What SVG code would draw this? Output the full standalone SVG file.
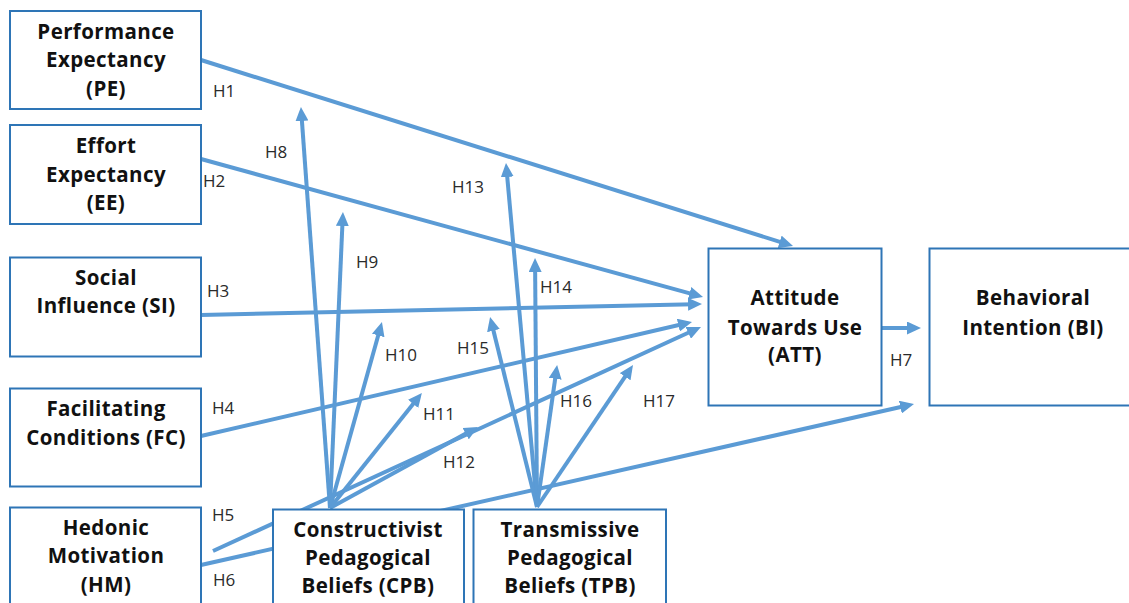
<svg xmlns="http://www.w3.org/2000/svg" width="1129" height="603" viewBox="0 0 1129 603">
<style>
.box{fill:#ffffff;stroke:#2E75B6;stroke-width:2}
.nt{font-family:"Open Sans","Liberation Sans",sans-serif;font-weight:bold;font-size:20.5px;letter-spacing:0.4px;fill:#111;text-anchor:middle}
.lbl{font-family:"Open Sans","Liberation Sans",sans-serif;font-size:17px;fill:#2a2a2a}
.ca{stroke:#5B9BD5;stroke-width:4;fill:none;marker-end:url(#ah)}
</style>
<defs>
<marker id="ah" markerUnits="userSpaceOnUse" viewBox="0 0 14 13" markerWidth="14" markerHeight="13" refX="6" refY="6.5" orient="auto">
<path d="M0,0 L14,6.5 L0,13 Z" fill="#5B9BD5"/>
</marker>
</defs>
<rect width="1129" height="603" fill="#ffffff"/>
<g id="connectors">
<line class="ca" x1="201" y1="60" x2="785.4" y2="243.6"/>
<line class="ca" x1="201" y1="159" x2="695.3" y2="294.9"/>
<line class="ca" x1="201" y1="315" x2="694" y2="304.2"/>
<line class="ca" x1="201" y1="436" x2="684.2" y2="323.8"/>
<line class="ca" x1="213" y1="551" x2="693.7" y2="330.3"/>
<line class="ca" x1="201" y1="565" x2="906.2" y2="405.8"/>
<line class="ca" x1="882" y1="328" x2="913" y2="328"/>
<line class="ca" x1="330" y1="508" x2="301.5" y2="115"/>
<line class="ca" x1="330" y1="508" x2="342.6" y2="220"/>
<line class="ca" x1="330" y1="508" x2="379.8" y2="329.7"/>
<line class="ca" x1="330" y1="508" x2="416.9" y2="399.2"/>
<line class="ca" x1="330" y1="508" x2="470.9" y2="430.8"/>
<line class="ca" x1="537" y1="507" x2="506.7" y2="171"/>
<line class="ca" x1="537" y1="507" x2="535.1" y2="266"/>
<line class="ca" x1="537" y1="507" x2="492" y2="324.8"/>
<line class="ca" x1="537" y1="507" x2="556" y2="372.9"/>
<line class="ca" x1="537" y1="507" x2="628.5" y2="371.7"/>
</g>
<g id="labels">
<text class="lbl" x="213" y="97">H1</text>
<text class="lbl" x="203" y="187">H2</text>
<text class="lbl" x="207" y="297">H3</text>
<text class="lbl" x="212" y="414">H4</text>
<text class="lbl" x="212" y="521">H5</text>
<text class="lbl" x="213" y="586">H6</text>
<text class="lbl" x="890" y="366">H7</text>
<text class="lbl" x="265" y="158">H8</text>
<text class="lbl" x="356" y="268">H9</text>
<text class="lbl" x="385" y="361">H10</text>
<text class="lbl" x="423" y="420">H11</text>
<text class="lbl" x="443" y="468">H12</text>
<text class="lbl" x="452" y="193">H13</text>
<text class="lbl" x="540" y="293">H14</text>
<text class="lbl" x="457" y="354">H15</text>
<text class="lbl" x="560" y="407">H16</text>
<text class="lbl" x="643" y="407">H17</text>
</g>
<g id="PE">
<rect class="box" x="10" y="11" width="191" height="98"/>
<text class="nt" x="106" y="39">Performance</text>
<text class="nt" x="106" y="67">Expectancy</text>
<text class="nt" x="106" y="96">(PE)</text>
</g>
<g id="EE">
<rect class="box" x="10" y="125" width="191" height="99"/>
<text class="nt" x="106" y="153">Effort</text>
<text class="nt" x="106" y="182">Expectancy</text>
<text class="nt" x="106" y="210">(EE)</text>
</g>
<g id="SI">
<rect class="box" x="10" y="257.5" width="191" height="99"/>
<text class="nt" x="106" y="285">Social</text>
<text class="nt" x="106" y="313">Influence (SI)</text>
</g>
<g id="FC">
<rect class="box" x="10" y="388.5" width="191" height="98"/>
<text class="nt" x="106" y="416">Facilitating</text>
<text class="nt" x="106" y="445">Conditions (FC)</text>
</g>
<g id="HM">
<rect class="box" x="10" y="507.5" width="191" height="110"/>
<text class="nt" x="106" y="535">Hedonic</text>
<text class="nt" x="106" y="563">Motivation</text>
<text class="nt" x="106" y="592">(HM)</text>
</g>
<g id="CPB">
<rect class="box" x="273" y="509.5" width="191" height="110"/>
<text class="nt" x="368" y="537">Constructivist</text>
<text class="nt" x="368" y="565">Pedagogical</text>
<text class="nt" x="368" y="593">Beliefs (CPB)</text>
</g>
<g id="TPB">
<rect class="box" x="473.5" y="509.5" width="192.5" height="110"/>
<text class="nt" x="570" y="537">Transmissive</text>
<text class="nt" x="570" y="565">Pedagogical</text>
<text class="nt" x="570" y="593">Beliefs (TPB)</text>
</g>
<g id="ATT">
<rect class="box" x="708.5" y="248.5" width="173" height="157"/>
<text class="nt" x="795" y="305">Attitude</text>
<text class="nt" x="795" y="335">Towards Use</text>
<text class="nt" x="795" y="362">(ATT)</text>
</g>
<g id="BI">
<rect class="box" x="929.5" y="248.5" width="220" height="157"/>
<text class="nt" x="1033" y="305">Behavioral</text>
<text class="nt" x="1033" y="335">Intention (BI)</text>
</g>
</svg>
